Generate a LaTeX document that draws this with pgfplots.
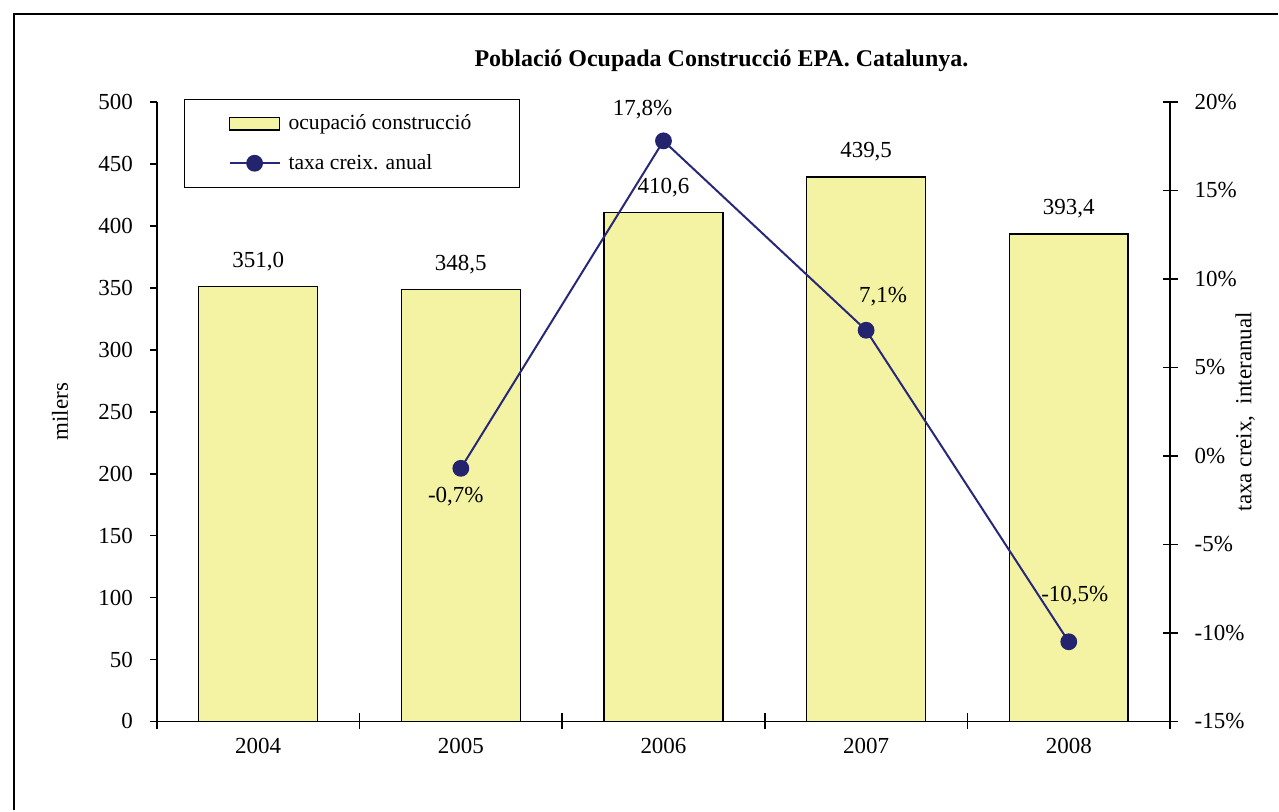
\documentclass[border=0pt]{standalone}
\usepackage{pgfplots}
\pgfplotsset{compat=1.18}
\usepackage{fontspec}
\setmainfont{Liberation Serif}
\definecolor{barfill}{RGB}{243,243,163}
\definecolor{linecol}{RGB}{40,40,120}
\definecolor{markcol}{RGB}{35,35,110}
\pgfplotsset{
  barlegend/.style={legend image code/.code={\draw[##1] (0cm,-0.11cm) rectangle (0.88cm,0.11cm);}},
  linelegend/.style={legend image code/.code={\draw[mark repeat=2,mark phase=2,##1] plot coordinates {(0cm,0cm) (0.44cm,0cm) (0.88cm,0cm)};}},
}
\begin{document}
\fontsize{11.5pt}{13pt}\selectfont
\begin{tikzpicture}
\path (0,0) rectangle (639.5pt,-405.5pt);
\draw[line width=1pt] (7pt,-405.5pt) -- (7pt,-7pt) -- (639.5pt,-7pt);
\node[font=\fontsize{12pt}{14pt}\selectfont\bfseries] at (361pt,-30.5pt) {Població Ocupada Construcció EPA. Catalunya.};
\begin{axis}[
  at={(78.5pt,-361pt)}, anchor=south west,
  scale only axis, width=507pt, height=310pt,
  xmin=-0.5, xmax=4.5, ymin=0, ymax=500,
  axis y line*=left, axis x line*=bottom,
  axis line style={line width=0.9pt, -},
  ytick={0,50,...,500},
  xtick={0,1,2,3,4},
  xticklabels={2004,2005,2006,2007,2008},
  minor xtick={-0.5,0.5,...,4.5},
  major x tick style={draw=none},
  xtick align=center, ytick align=outside,
  major tick length=3.5pt, minor tick length=8pt,
  tick style={line width=0.9pt, black},
  /pgf/number format/assume math mode=true,
  yticklabel style={xshift=-4.5pt},
  xticklabel style={yshift=-2.5pt},
  ylabel={milers},
  ylabel style={at={(axis description cs:-0.0957,0.5)}, anchor=center},
]
\addplot[ybar, bar width=0.587, fill=barfill, draw=black, line width=0.75pt,
  nodes near coords={\pgfmathprintnumber[fixed,fixed zerofill,precision=1,use comma,assume math mode=true]{\pgfplotspointmeta}},
  every node near coord/.append style={anchor=center, yshift=12.5pt, black}]
  coordinates {(0,351.0) (1,348.5) (2,410.6) (3,439.5) (4,393.4)};
\end{axis}
\begin{axis}[
  at={(78.5pt,-361pt)}, anchor=south west,
  scale only axis, width=507pt, height=310pt,
  xmin=-0.5, xmax=4.5, ymin=-15, ymax=20,
  axis y line*=right, axis x line=none,
  axis line style={line width=0.9pt, -},
  ytick={-15,-10,...,20},
  ytick align=center, major tick length=7.5pt,
  tick style={line width=0.9pt, black},
  /pgf/number format/assume math mode=true,
  yticklabel={\pgfmathprintnumber{\tick}\%},
  yticklabel style={xshift=4.5pt},
  ylabel={taxa creix,\ \ interanual},
  ylabel style={at={(axis description cs:1.074,0.5)}, anchor=center},
  legend style={at={(axis description cs:0.0266,1.005)}, anchor=north west,
    draw=black, line width=0.8pt, inner xsep=22pt, inner ysep=5.5pt,
    row sep=6.5pt, column sep=2pt, cells={anchor=west},
    font=\fontsize{10.8pt}{12pt}\selectfont},
]
\addlegendimage{fill=barfill, draw=black, line width=0.75pt, barlegend}
\addlegendentry{ocupació construcció}
\addplot[color=linecol, line width=1pt, mark=*, mark size=3.7pt,
  mark options={fill=markcol, draw=markcol}, linelegend,
  nodes near coords={\pgfmathprintnumber[fixed,fixed zerofill,precision=1,use comma,assume math mode=true]{\pgfplotspointmeta}\%},
  visualization depends on={\thisrow{dx} \as \dx},
  visualization depends on={\thisrow{dy} \as \dy},
  every node near coord/.append style={anchor=center, xshift=\dx pt, yshift=\dy pt, black}]
  table {
x y dx dy
1 -0.7 -2.5 -14
2 17.8 -10.5 15.5
3 7.1 8.5 17
4 -10.5 3 23
};
\addlegendentry{taxa creix. anual}
\end{axis}
\end{tikzpicture}
\end{document}
